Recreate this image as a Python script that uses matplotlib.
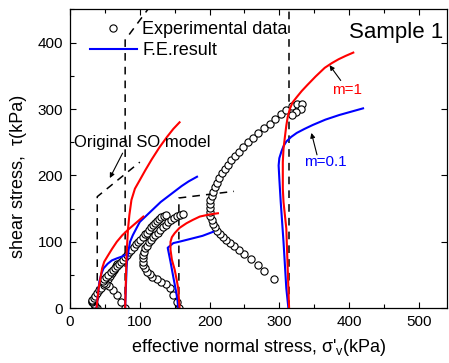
import matplotlib
matplotlib.use("Agg")
import matplotlib.pyplot as plt
from matplotlib.lines import Line2D

plt.rcParams["font.family"] = ["Liberation Sans", "DejaVu Sans"]
plt.rcParams["mathtext.fontset"] = "custom"
plt.rcParams["mathtext.rm"] = "Liberation Sans"
plt.rcParams["mathtext.it"] = "Liberation Sans"

# ------------------------------------------------------------
# Data
# ------------------------------------------------------------

# experimental data, four tests
exp1_x = [39, 36, 34, 32, 31, 32, 34, 36, 39, 42, 45, 48, 51, 54, 57, 60, 63, 66, 68]
exp1_y = [0, 4, 7, 9, 11, 13, 16, 19, 23, 27, 31, 35, 39, 44, 48, 53, 58, 63, 66]

exp2_x = [79, 73, 67, 61, 56, 51, 48, 47, 49, 52, 55, 58, 61, 64, 67, 70, 73, 76, 79,
          82, 85, 88, 91, 94, 97, 100, 104, 107, 110, 113, 116, 119, 122, 125, 128,
          131, 134, 137]
exp2_y = [0, 10, 20, 28, 33, 36, 38, 41, 44, 47, 50, 54, 57, 61, 64, 67, 70, 73, 77,
          80, 84, 88, 92, 96, 99, 103, 107, 111, 114, 118, 122, 125, 128, 131, 134,
          137, 139, 140]

exp3_x = [156, 153, 148, 143, 137, 131, 124, 118, 114, 110, 107, 105, 104, 104, 105,
          106, 108, 110, 113, 116, 119, 122, 126, 129, 133, 137, 141, 145, 149, 153,
          157, 162]
exp3_y = [0, 9, 20, 30, 36, 40, 44, 47, 51, 55, 60, 65, 70, 75, 80, 85, 90, 94, 99,
          103, 107, 110, 114, 118, 122, 126, 130, 133, 136, 139, 141, 142]

exp4_x = [293, 278, 269, 259, 250, 242, 235, 229, 224, 219, 215, 211, 208, 205, 203,
          201, 200, 200, 200, 201, 203, 205, 208, 211, 214, 218, 222, 226, 231, 236,
          242, 248, 255, 262, 270, 278, 286, 294, 302, 310, 318, 326, 333, 331, 324,
          318]
exp4_y = [44, 56, 65, 74, 81, 88, 93, 98, 102, 107, 112, 117, 122, 127, 133, 139, 145,
          151, 157, 163, 169, 175, 182, 189, 196, 203, 210, 216, 223, 229, 236, 243,
          250, 257, 264, 271, 278, 285, 292, 299, 305, 308, 308, 300, 295, 291]

# F.E. results, m = 0.1 (blue)
fe01_1_x = [38, 39, 40, 42, 45, 48, 54, 60, 67, 75, 82]
fe01_1_y = [0, 10, 20, 40, 52, 60, 67, 72, 75, 78, 82]
fe01_2_x = [79, 80, 81, 82, 84, 86, 90, 95, 100, 110, 120, 130, 140, 150, 160, 170, 182]
fe01_2_y = [0, 30, 60, 75, 88, 100, 110, 120, 130, 140, 150, 160, 168, 176, 184, 191, 198]
fe01_3_x = [155, 154, 152, 150, 148, 144, 140, 148, 160, 175, 190, 200, 205]
fe01_3_y = [0, 12, 25, 36, 47, 70, 91, 98, 101, 105, 109, 113, 115]
fe01_4_x = [313, 310, 308, 306, 304, 302, 300, 299, 300, 303, 306, 310, 317, 325, 336,
            348, 366, 386, 403, 420]
fe01_4_y = [0, 30, 65, 100, 130, 160, 195, 215, 226, 236, 244, 251, 258, 264, 270,
            276, 284, 291, 296, 301]

# F.E. results, m = 1 (red)
fe1_1_x = [38, 39, 40, 41, 43, 46, 49, 53, 60, 67, 75, 83, 94, 105]
fe1_1_y = [0, 10, 20, 30, 42, 60, 70, 77, 89, 100, 110, 118, 128, 138]
fe1_2_x = [79, 80, 81, 83, 85, 88, 93, 100, 108, 117, 128, 139, 148, 157]
fe1_2_y = [0, 40, 80, 118, 140, 163, 180, 193, 208, 224, 242, 258, 270, 280]
fe1_3_x = [157, 156, 155, 153, 150, 146, 144, 144, 146, 150, 157, 167, 176, 186, 199, 212]
fe1_3_y = [0, 15, 30, 42, 58, 73, 88, 100, 107, 113, 121, 128, 133, 138, 141, 143]
fe1_4_x = [314, 313, 312, 311, 310, 308, 306, 305, 305, 305, 306, 308, 310, 312, 315,
           319, 325, 332, 340, 352, 365, 375, 385, 395, 406]
fe1_4_y = [0, 30, 60, 90, 120, 140, 160, 180, 200, 220, 240, 258, 275, 288, 300, 310,
           318, 327, 336, 349, 362, 369, 375, 380, 385]

# original SO model (dashed)
so1_x = [39, 39, 100]
so1_y = [0, 168, 220]
so2_x = [79, 79, 115]
so2_y = [0, 404, 455]
so3_x = [156, 156, 235]
so3_y = [0, 166, 176]
so4_x = [314, 314]
so4_y = [0, 460]

# ------------------------------------------------------------
# Figure
# ------------------------------------------------------------

fig = plt.figure(figsize=(4.49, 3.63), dpi=100)
ax = fig.add_axes([0.156, 0.151, 0.839, 0.823])

dash = dict(color="black", linewidth=1.1, dashes=(5, 4))
for xs, ys in [(so1_x, so1_y), (so2_x, so2_y), (so3_x, so3_y), (so4_x, so4_y)]:
    ax.plot(xs, ys, **dash)

for xs, ys in [(exp1_x, exp1_y), (exp2_x, exp2_y), (exp3_x, exp3_y), (exp4_x, exp4_y)]:
    ax.plot(xs, ys, linestyle="none", marker="o", markersize=5.2,
            markerfacecolor="white", markeredgecolor="black", markeredgewidth=0.8)

for xs, ys in [(fe01_1_x, fe01_1_y), (fe01_2_x, fe01_2_y),
               (fe01_3_x, fe01_3_y), (fe01_4_x, fe01_4_y)]:
    ax.plot(xs, ys, color="#0000ff", linewidth=1.5)

for xs, ys in [(fe1_1_x, fe1_1_y), (fe1_2_x, fe1_2_y),
               (fe1_3_x, fe1_3_y), (fe1_4_x, fe1_4_y)]:
    ax.plot(xs, ys, color="#ff0000", linewidth=1.5)

ax.set_xlim(0, 540)
ax.set_ylim(0, 450)
ax.set_xticks([0, 100, 200, 300, 400, 500])
ax.set_yticks([0, 100, 200, 300, 400])
ax.xaxis.set_minor_locator(matplotlib.ticker.MultipleLocator(50))
ax.yaxis.set_minor_locator(matplotlib.ticker.MultipleLocator(50))
ax.tick_params(which="both", direction="in", top=True, right=True, labelsize=11, pad=5)
ax.tick_params(which="major", length=4, width=0.8)
ax.tick_params(which="minor", length=3, width=0.8, right=False)
for sp in ax.spines.values():
    sp.set_linewidth(0.9)

ax.set_xlabel(r"effective normal stress, σ'$_{\mathrm{v}}$(kPa)", fontsize=13, labelpad=6)
ax.set_ylabel("shear stress,  τ(kPa)", fontsize=13)
ax.yaxis.set_label_coords(-0.115, 0.44)

# legend
handles = [
    Line2D([], [], linestyle="none", marker="o", markersize=5.2,
           markerfacecolor="white", markeredgecolor="black", markeredgewidth=0.8),
    Line2D([], [], color="#0000ff", linewidth=1.5),
]
ax.legend(handles, ["Experimental data", "F.E.result"], loc="upper left",
          bbox_to_anchor=(0.053, 0.96), frameon=False, fontsize=13,
          handlelength=2.6, handletextpad=0.3, labelspacing=0.2,
          borderpad=0, borderaxespad=0)

ax.text(0.99, 0.924, "Sample 1", transform=ax.transAxes, ha="right", va="center",
        fontsize=16)

ax.annotate("Original SO model", xy=(57, 196), xytext=(5, 249),
            ha="left", va="center", fontsize=12,
            arrowprops=dict(arrowstyle="-|>", color="black", lw=0.8,
                            mutation_scale=7, shrinkA=0, shrinkB=0,
                            relpos=(0.37, 0.0)))

ax.text(375, 328, "m=1", color="#ff0000", fontsize=11, ha="left", va="center")
ax.annotate("", xy=(372, 366), xytext=(388, 343),
            arrowprops=dict(arrowstyle="-|>", color="black", lw=0.8,
                            mutation_scale=7, shrinkA=0, shrinkB=0))

ax.text(336, 220, "m=0.1", color="#0000ff", fontsize=11, ha="left", va="center")
ax.annotate("", xy=(346, 264), xytext=(354, 231),
            arrowprops=dict(arrowstyle="-|>", color="black", lw=0.8,
                            mutation_scale=7, shrinkA=0, shrinkB=0))

fig.savefig("out.png", dpi=100)
